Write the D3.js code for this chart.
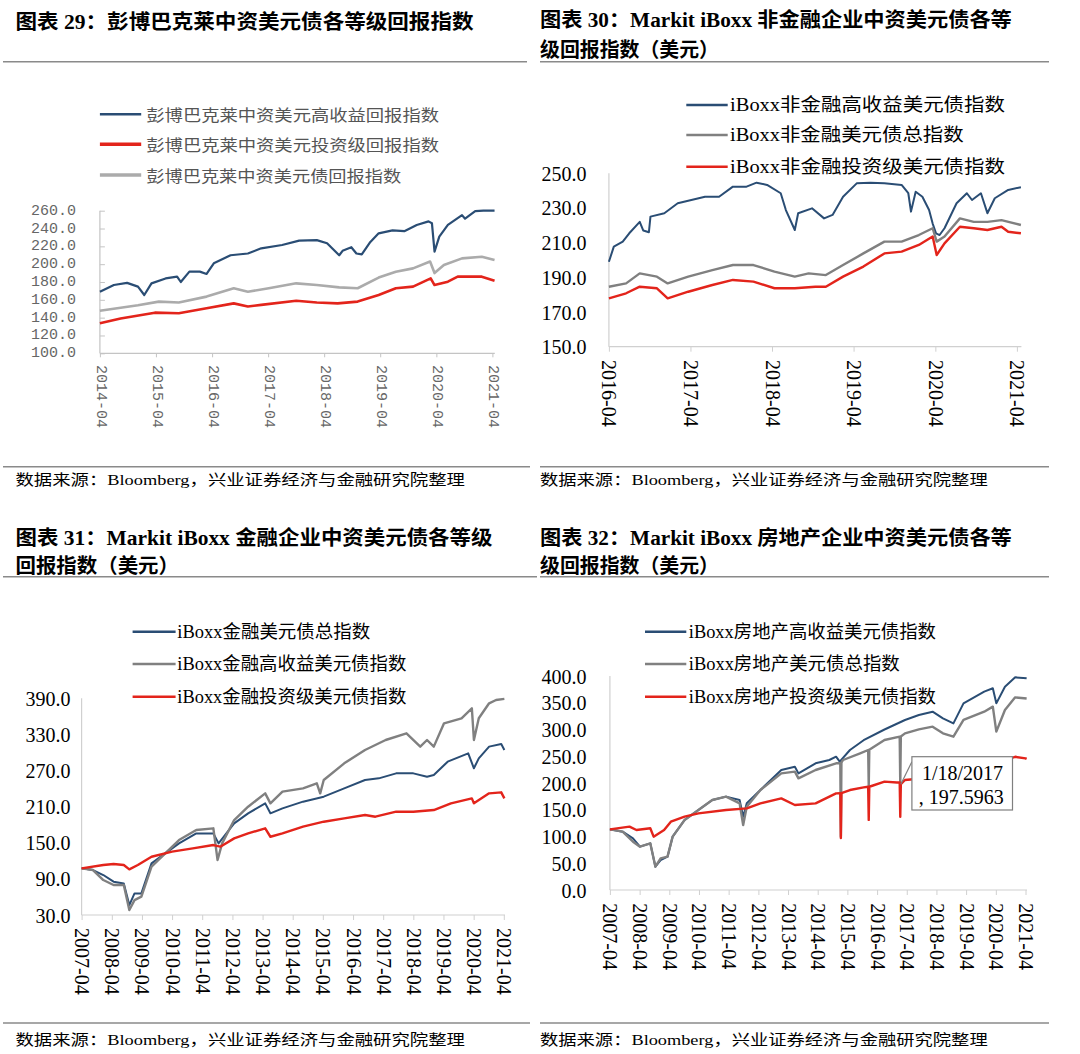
<!DOCTYPE html>
<html><head><meta charset="utf-8">
<script src="https://cdn.jsdelivr.net/npm/d3@7"></script>
<style>body{margin:0;background:#fff}</style>
</head><body>
<svg id="c" width="1080" height="1054"></svg>
<script>
// ---------- Chart 29 ----------
const c29Title = "图表 29：彭博巴克莱中资美元债各等级回报指数";
const c29XTicks = ["2014-04","2015-04","2016-04","2017-04","2018-04","2019-04","2020-04","2021-04"];
const c29YTicks = [100,120,140,160,180,200,220,240,260];
const c29Names = ["彭博巴克莱中资美元高收益回报指数","彭博巴克莱中资美元投资级回报指数","彭博巴克莱中资美元债回报指数"];
const c29HY = [["2014-04-01",169],["2014-07-01",176.6],["2014-09-25",179],["2014-12-05",174.8],["2015-01-15",165.4],["2015-03-03",178.5],["2015-06-03",184],["2015-08-17",186],["2015-09-10",180],["2015-11-05",191.6],["2016-01-12",191.6],["2016-02-25",189],["2016-04-12",201],["2016-07-30",210],["2016-11-20",212],["2017-02-15",217.8],["2017-07-01",221.5],["2017-10-20",226.4],["2018-02-12",227],["2018-04-20",223.4],["2018-07-08",210],["2018-07-30",215],["2018-09-25",219],["2018-10-28",212],["2018-12-02",211],["2019-01-27",225],["2019-03-22",234.6],["2019-06-20",238],["2019-09-05",237],["2019-11-25",244],["2020-02-10",248],["2020-03-03",246],["2020-03-20",214],["2020-04-20",231],["2020-06-15",244],["2020-09-15",255],["2020-10-05",251],["2020-12-10",259.5],["2021-02-01",260],["2021-04-15",260]];
const c29IG = [["2014-04-01",133.6],["2014-08-14",139],["2015-03-25",145.6],["2015-08-28",145],["2016-02-25",150.5],["2016-08-20",156],["2016-11-20",152.6],["2017-02-15",154.3],["2017-10-01",159],["2018-02-12",157],["2018-06-28",156],["2018-11-05",158],["2019-03-22",165.4],["2019-07-12",172.9],["2019-11-01",174.8],["2020-02-24",184],["2020-03-20",176.6],["2020-06-15",180.4],["2020-08-18",186],["2021-01-22",186],["2021-04-15",181.5]];
const c29Total = [["2014-04-01",147.8],["2014-12-05",154],["2015-04-20",158],["2015-08-28",157],["2016-02-25",163.6],["2016-08-20",172.9],["2016-11-20",169],["2017-04-05",173],["2017-10-01",178.5],["2018-02-12",176.6],["2018-07-08",174],["2018-11-05",173],["2019-03-22",185],["2019-07-12",191.6],["2019-11-01",195.3],["2020-02-20",203],["2020-03-20",190],["2020-05-20",199],["2020-09-15",206.5],["2021-01-22",208.4],["2021-04-15",204.7]];

// ---------- Chart 30 ----------
const c30Title = ["图表 30：Markit iBoxx 非金融企业中资美元债各等","级回报指数（美元）"];
const c30XTicks = ["2016-04","2017-04","2018-04","2019-04","2020-04","2021-04"];
const c30YTicks = [150,170,190,210,230,250];
const c30Names = ["iBoxx非金融高收益美元债指数","iBoxx非金融美元债总指数","iBoxx非金融投资级美元债指数"];
const c30HY = [["2016-04-01",199],["2016-04-23",207.7],["2016-06-02",210.6],["2016-07-01",215.4],["2016-08-17",222],["2016-09-02",217],["2016-09-27",216],["2016-10-04",225],["2016-12-05",227],["2017-02-03",232.7],["2017-04-05",234.6],["2017-06-05",236.5],["2017-08-07",236.5],["2017-10-08",242.3],["2017-12-08",242.3],["2018-01-22",244.6],["2018-03-10",243.3],["2018-05-10",238.5],["2018-06-02",228.8],["2018-07-12",217.3],["2018-07-27",227],["2018-09-27",229.8],["2018-11-20",224],["2018-12-28",226],["2019-02-13",236.5],["2019-04-15",244.2],["2019-06-16",244.6],["2019-08-17",244.2],["2019-11-02",243.3],["2019-12-02",238.5],["2019-12-14",227.9],["2020-01-04",239.4],["2020-02-03",236.5],["2020-03-04",228.8],["2020-03-20",221],["2020-04-04",215.4],["2020-04-20",214.4],["2020-05-12",218.3],["2020-07-05",232.7],["2020-08-20",238.5],["2020-09-12",234.6],["2020-10-22",238.5],["2020-11-20",227],["2020-12-23",235.6],["2021-02-21",240.4],["2021-04-19",242]];
const c30Total = [["2016-04-01",184.6],["2016-06-17",186.5],["2016-08-17",192.3],["2016-11-02",190.4],["2016-12-20",186.5],["2017-03-22",190.4],["2017-07-08",194.2],["2017-10-08",197.1],["2018-01-08",197.1],["2018-04-12",193.3],["2018-07-12",190.4],["2018-09-12",192.3],["2018-11-28",191.3],["2019-02-13",197.1],["2019-05-15",203.8],["2019-08-17",210.6],["2019-11-02",210.6],["2020-01-18",214.4],["2020-03-20",218.3],["2020-04-07",210.6],["2020-05-12",213.5],["2020-07-20",224],["2020-09-20",222],["2020-11-20",222],["2021-01-22",223],["2021-04-19",220.2]];
const c30IG = [["2016-04-01",177.9],["2016-06-17",180.8],["2016-08-17",184.6],["2016-11-02",183.7],["2016-12-20",177.9],["2017-03-22",181.7],["2017-07-08",185.6],["2017-10-08",188.5],["2018-01-08",187.5],["2018-04-12",183.7],["2018-07-12",183.7],["2018-10-12",184.6],["2018-11-28",184.6],["2019-02-13",190.4],["2019-05-15",196.2],["2019-08-17",203.8],["2019-11-02",204.8],["2020-01-18",208.7],["2020-03-20",213.5],["2020-04-07",202.9],["2020-05-12",209.6],["2020-07-20",219.2],["2020-09-20",218.3],["2020-11-20",217.3],["2021-01-22",219.2],["2021-02-21",216.3],["2021-04-19",215.4]];

// ---------- Chart 31 ----------
const c31Title = ["图表 31：Markit iBoxx 金融企业中资美元债各等级","回报指数（美元）"];
const c31XTicks = ["2007-04","2008-04","2009-04","2010-04","2011-04","2012-04","2013-04","2014-04","2015-04","2016-04","2017-04","2018-04","2019-04","2020-04","2021-04"];
const c31YTicks = [30,90,150,210,270,330,390];
const c31Names = ["iBoxx金融美元债总指数","iBoxx金融高收益美元债指数","iBoxx金融投资级美元债指数"];
const c31Total = [["2007-04-01",107.5],["2007-08-17",104.7],["2007-12-20",96.4],["2008-04-22",85.3],["2008-08-24",82.5],["2008-10-30",46.5],["2009-01-01",65.9],["2009-03-25",65.9],["2009-07-26",115.8],["2010-01-08",132.4],["2010-06-24",149],["2011-01-19",165.6],["2011-08-14",165.6],["2011-10-16",149],["2012-04-22",182.2],["2012-10-08",198.9],["2013-05-03",215.5],["2013-07-05",198.9],["2013-11-28",207.2],["2014-08-04",218.3],["2015-04-12",226.6],["2015-12-16",240.4],["2016-08-24",254.3],["2017-02-07",257],["2017-09-05",265.3],["2018-04-01",265.3],["2018-09-14",259.8],["2018-12-05",262.6],["2019-05-22",284.7],["2020-01-26",298.6],["2020-04-04",273.7],["2020-06-02",290.3],["2020-10-05",309.7],["2021-03-01",314.1],["2021-04-08",304.1]];
const c31HY = [["2007-04-01",107.5],["2007-08-17",104.7],["2007-12-20",88.1],["2008-04-22",79.8],["2008-08-24",79.8],["2008-10-30",38.2],["2009-01-01",54.8],["2009-03-25",60.4],["2009-07-26",110.2],["2010-01-08",132.4],["2010-06-24",154.5],["2011-01-19",171.2],["2011-08-14",174],["2011-10-04",121.3],["2011-11-28",149],["2012-04-22",187.8],["2012-10-08",209.9],["2013-05-03",232.1],["2013-07-05",215.5],["2013-11-28",234.9],["2014-08-04",240.4],["2015-01-18",248.7],["2015-02-28",232.1],["2015-04-12",254.3],["2015-12-16",282],["2016-08-24",304.1],["2017-05-01",320.7],["2018-01-08",331.8],["2018-06-24",309.7],["2018-09-14",320.7],["2018-12-05",309.7],["2019-04-08",348.4],["2019-11-06",356.8],["2020-03-10",373.4],["2020-04-04",320.7],["2020-06-02",356.8],["2020-10-05",381.7],["2020-12-28",387.2],["2021-04-08",389]];
const c31IG = [["2007-04-01",107.5],["2007-12-20",113],["2008-04-22",114.7],["2008-08-24",113],["2008-10-30",105.8],["2009-02-10",113],["2009-07-26",126.8],["2010-04-01",135.2],["2010-12-08",140.7],["2011-08-14",146.2],["2011-11-06",143.5],["2012-04-22",157.3],["2012-10-08",165.6],["2013-05-03",174],["2013-07-05",160],["2013-11-28",165.6],["2014-08-04",176.7],["2015-04-12",185],["2015-12-16",190.6],["2016-08-24",196.1],["2016-12-28",193.3],["2017-09-05",201.6],["2018-04-01",201.6],["2018-12-05",204.4],["2019-07-01",215.5],["2020-03-10",223.8],["2020-04-04",215.5],["2020-10-05",232.1],["2021-03-01",233.8],["2021-04-08",223.8]];

// ---------- Chart 32 ----------
const c32Title = ["图表 32：Markit iBoxx 房地产企业中资美元债各等","级回报指数（美元）"];
const c32XTicks = c31XTicks;
const c32YTicks = [0,50,100,150,200,250,300,350,400];
const c32Names = ["iBoxx房地产高收益美元债指数","iBoxx房地产美元债总指数","iBoxx房地产投资级美元债指数"];
const c32HY = [["2007-04-01",113.4],["2007-09-05",109],["2008-01-10",96.6],["2008-04-05",81],["2008-08-10",87.2],["2008-10-12",43.6],["2008-12-15",56],["2009-03-10",62.3],["2009-05-12",99.7],["2009-10-06",130.8],["2010-03-25",149.5],["2010-09-12",168.2],["2011-02-28",174.5],["2011-08-14",168.2],["2011-09-27",137],["2011-11-10",162],["2012-04-26",186.9],["2013-01-08",224.3],["2013-06-24",230.5],["2013-08-07",218],["2014-03-06",236.8],["2014-08-22",243],["2014-11-13",249.2],["2014-12-28",240],["2015-05-03",261.7],["2015-10-18",280],["2016-07-01",300],["2017-03-10",317.8],["2017-08-28",327.1],["2018-02-13",333.3],["2018-06-20",320.9],["2018-10-27",311.5],["2019-02-28",348.9],["2019-11-10",370.7],["2020-02-24",377],["2020-04-07",348.9],["2020-07-22",380],["2020-11-25",397.5],["2021-04-15",395.6]];
const c32Total = [["2007-04-01",113.4],["2007-09-05",109],["2008-01-10",90.3],["2008-04-05",81],["2008-08-10",87.2],["2008-10-12",43.6],["2008-12-15",59.2],["2009-03-10",62.3],["2009-05-12",99.7],["2009-10-06",130.8],["2010-03-25",149.5],["2010-09-12",168.2],["2011-02-28",174.5],["2011-08-14",162],["2011-09-27",121.5],["2011-11-10",155.8],["2012-04-26",186.9],["2013-01-08",218],["2013-06-24",221.2],["2013-08-07",208.7],["2014-03-06",224.3],["2014-11-13",236.8],["2015-01-04",237],["2015-01-11",100],["2015-01-18",238],["2015-02-07",243],["2015-09-05",255.5],["2015-12-13",261.7],["2015-12-20",193],["2015-12-27",262],["2016-07-01",280.4],["2017-01-04",286.6],["2017-01-11",196],["2017-01-18",287],["2017-03-10",292.8],["2017-08-28",300.3],["2018-02-13",305.3],["2018-06-20",292.8],["2018-10-27",286.6],["2019-02-28",317.8],["2019-11-10",333.3],["2020-02-24",342.7],["2020-04-07",296],["2020-07-22",336.4],["2020-11-25",360.1],["2021-04-15",358]];
const c32IG = [["2007-04-01",113.4],["2007-11-28",118.4],["2008-02-22",112.1],["2008-08-10",115.3],["2008-09-20",99.7],["2009-01-27",112.1],["2009-04-20",127.7],["2009-10-06",137.1],["2010-03-25",143.3],["2011-02-28",149.5],["2011-11-10",152.6],["2012-04-26",162],["2013-01-08",171.3],["2013-06-24",158.9],["2014-03-06",162],["2014-11-13",180.7],["2015-01-04",181],["2015-01-11",97],["2015-01-18",181],["2015-05-03",186.9],["2015-10-18",191.9],["2015-12-13",193],["2015-12-20",131],["2015-12-27",193],["2016-07-01",202.5],["2016-12-01",201],["2017-01-04",201],["2017-01-11",137],["2017-01-18",197.5963],["2017-03-10",205.6],["2017-08-28",208],["2018-06-20",212],["2019-02-28",218],["2019-11-10",232],["2020-02-24",238],["2020-04-07",225],["2020-07-22",240],["2020-10-15",247],["2020-11-25",249],["2021-04-01",246],["2021-04-15",245]];
const c32Callout = ["2017-01-18", 197.5963];

const sourceText = "数据来源：Bloomberg，兴业证券经济与金融研究院整理";

// ---------- drawing ----------
const svg = d3.select("#c");
svg.append("rect").attr("width",1080).attr("height",1054).attr("fill","#fff");
const parse = d3.timeParse("%Y-%m-%d");
const SERIF = "'Liberation Serif','Noto Sans CJK SC',serif";
const MONO = "'Liberation Mono','Noto Sans CJK SC',monospace";
const CJK = "'Noto Sans CJK SC',sans-serif";
const BLUE = "#2a4d74", RED = "#e3241b";

function text(x, y, s, opt) {
  const t = svg.append("text").attr("x", x).attr("y", y).text(s)
    .attr("dominant-baseline","central")
    .attr("font-family", opt.font || SERIF)
    .attr("font-size", opt.size || 16)
    .attr("fill", opt.fill || "#000");
  if (opt.bold) t.attr("font-weight","bold");
  if (opt.len) t.attr("textLength", opt.len).attr("lengthAdjust","spacingAndGlyphs");
  return t;
}
function rule(x1, x2, y) {
  svg.append("line").attr("x1",x1).attr("x2",x2).attr("y1",y).attr("y2",y)
    .attr("stroke","#8a8a8a").attr("stroke-width",1.6);
}

function drawChart(o) {
  const g = svg.append("g");
  const x = d3.scaleTime()
    .domain([parse(o.xTicks[0]+"-01"), parse(o.xTicks[o.xTicks.length-1]+"-01")])
    .range([o.ax, o.ax2]);
  const y = d3.scaleLinear().domain([o.yTicks[0], o.yTicks[o.yTicks.length-1]]).range([o.yb, o.yt]);

  // axis lines
  g.append("line").attr("x1",o.ax).attr("x2",o.ax).attr("y1",o.yb).attr("y2",o.yt)
    .attr("stroke",o.axisColor).attr("stroke-width",1.2);
  g.append("line").attr("x1",o.ax).attr("x2",o.xEnd).attr("y1",o.yb).attr("y2",o.yb)
    .attr("stroke",o.axisColor).attr("stroke-width",1.2);

  // y axis
  const ya = g.append("g").attr("transform",`translate(${o.ax},0)`)
    .call(d3.axisLeft(y).tickValues(o.yTicks).tickFormat(d3.format(".1f")).tickSize(o.yTick));
  ya.select(".domain").remove();
  ya.selectAll(".tick line").attr("stroke",o.axisColor);
  ya.selectAll("text").attr("x", o.yLabelRight - o.ax).attr("dy",null)
    .attr("dominant-baseline","central").attr("text-anchor","end")
    .attr("font-family",o.tickFont).attr("font-size",o.tickSize).attr("fill",o.tickFill);

  // x axis
  const xa = g.append("g").attr("transform",`translate(0,${o.yb})`)
    .call(d3.axisBottom(x).tickValues(o.xTicks.map(s=>parse(s+"-01")))
      .tickFormat(d3.timeFormat("%Y-%m")).tickSize(o.xTick));
  xa.select(".domain").remove();
  xa.selectAll(".tick line").attr("stroke",o.axisColor);
  xa.selectAll("text").attr("x",0).attr("y",0).attr("dy",null)
    .attr("transform",`translate(0,${o.xLabelTop - o.yb}) rotate(90)`)
    .attr("text-anchor","start").attr("dominant-baseline","central")
    .attr("font-family",o.tickFont).attr("font-size",o.tickSize).attr("fill",o.tickFill);

  // lines
  const line = d3.line().x(d=>x(parse(d[0]))).y(d=>y(d[1]));
  o.series.forEach(s => {
    g.append("path").datum(s.data).attr("d",line).attr("fill","none")
      .attr("stroke",s.color).attr("stroke-width",s.width || 2)
      .attr("stroke-linejoin","round");
  });

  // legend
  o.legend.forEach((l,i) => {
    g.append("line").attr("x1",o.lx1).attr("x2",o.lx2).attr("y1",o.ly[i]).attr("y2",o.ly[i])
      .attr("stroke",l.color).attr("stroke-width",l.width || 2.5);
    text(o.ltx, o.ly[i], l.name, {font:o.legendFont, size:o.legendSize, fill:o.legendFill, len:l.len});
  });
  return {x, y};
}

// Chart 29
text(15.5, 21.7, c29Title, {size:20, bold:true, len:458});
rule(3, 527, 61.7);
drawChart({
  ax:99.9, ax2:492.4, xEnd:494.8, yb:353.3, yt:210.7,
  xTicks:c29XTicks, yTicks:c29YTicks, axisColor:"#c4c4c4",
  yTick:-5, xTick:4, yLabelRight:76, xLabelTop:365,
  tickFont:MONO, tickSize:15, tickFill:"#666",
  series:[{data:c29HY,color:BLUE,width:2.2},{data:c29Total,color:"#ababab",width:2.6},{data:c29IG,color:RED,width:2.6}],
  lx1:99.9, lx2:141.2, ltx:146.3, ly:[114.3,144.3,175],
  legendFont:CJK, legendSize:16, legendFill:"#555",
  legend:[{name:c29Names[0],color:BLUE,len:292.7},{name:c29Names[1],color:RED,len:292.7,width:3.5},{name:c29Names[2],color:"#ababab",len:254.9,width:3.5}]
});
rule(3, 530, 466.7);
text(15.5, 480, sourceText, {size:15, len:449.4});

// Chart 30
text(540, 20, c30Title[0], {size:20, bold:true, len:471.8});
text(540, 50, c30Title[1], {size:20, bold:true, len:179});
rule(540, 1049, 61.7);
drawChart({
  ax:608.9, ax2:1016.9, xEnd:1021.4, yb:346.7, yt:173.3,
  xTicks:c30XTicks, yTicks:c30YTicks, axisColor:"#d0d0d0",
  yTick:0, xTick:5, yLabelRight:586.5, xLabelTop:360,
  tickFont:SERIF, tickSize:20, tickFill:"#000",
  series:[{data:c30HY,color:BLUE,width:2},{data:c30Total,color:"#808080",width:2.4},{data:c30IG,color:RED,width:2.4}],
  lx1:686.3, lx2:727.7, ltx:730.1, ly:[105,135,166.7],
  legendFont:SERIF, legendSize:18, legendFill:"#000",
  legend:[{name:c30Names[0],color:BLUE,len:274.8},{name:c30Names[1],color:"#808080",len:233.5},{name:c30Names[2],color:RED,len:274.8}]
});
rule(540, 1049, 466.7);
text(540, 480, sourceText, {size:15, len:447.7});

// Chart 31
text(15.5, 538, c31Title[0], {size:20, bold:true, len:476.9});
text(15.5, 566, c31Title[1], {size:20, bold:true, len:163.5});
rule(3, 537, 576.7);
drawChart({
  ax:81.6, ax2:503.8, xEnd:505, yb:915, yt:698.3,
  xTicks:c31XTicks, yTicks:c31YTicks, axisColor:"#d0d0d0",
  yTick:0, xTick:5, yLabelRight:70.6, xLabelTop:928,
  tickFont:SERIF, tickSize:20, tickFill:"#000",
  series:[{data:c31Total,color:BLUE,width:2},{data:c31HY,color:"#808080",width:2.4},{data:c31IG,color:RED,width:2.4}],
  lx1:132.6, lx2:175.6, ltx:177.3, ly:[631.7,664,696.7],
  legendFont:SERIF, legendSize:18, legendFill:"#000",
  legend:[{name:c31Names[0],color:BLUE,len:192.9},{name:c31Names[1],color:"#808080",len:229},{name:c31Names[2],color:RED,len:229}]
});
rule(3, 530, 1023);
text(15.5, 1040, sourceText, {size:15, len:449.4});

// Chart 32
text(540, 538, c32Title[0], {size:20, bold:true, len:471.8});
text(540, 566, c32Title[1], {size:20, bold:true, len:179});
rule(540, 1049, 576.7);
const s32 = drawChart({
  ax:609.9, ax2:1025.5, xEnd:1027, yb:890, yt:676,
  xTicks:c32XTicks, yTicks:c32YTicks, axisColor:"#d0d0d0",
  yTick:0, xTick:5, yLabelRight:586.5, xLabelTop:903.3,
  tickFont:SERIF, tickSize:20, tickFill:"#000",
  series:[{data:c32HY,color:BLUE,width:2},{data:c32Total,color:"#808080",width:2.4},{data:c32IG,color:RED,width:2.4}],
  lx1:645, lx2:686.3, ltx:688.8, ly:[631.7,664,696.7],
  legendFont:SERIF, legendSize:18, legendFill:"#000",
  legend:[{name:c32Names[0],color:BLUE,len:247.2},{name:c32Names[1],color:"#808080",len:211},{name:c32Names[2],color:RED,len:247.2}]
});
// callout
const px = s32.x(parse(c32Callout[0])), py = s32.y(c32Callout[1]);
svg.append("line").attr("x1",px).attr("y1",py).attr("x2",911.9).attr("y2",761.7)
  .attr("stroke","#7f7f7f").attr("stroke-width",1.2);
svg.append("rect").attr("x",911.9).attr("y",756.7).attr("width",100.6).attr("height",53.3)
  .attr("fill","#fff").attr("stroke","#7f7f7f").attr("stroke-width",1.2);
text(922, 773, d3.timeFormat("%-m/%-d/%Y")(parse(c32Callout[0])), {size:20});
text(918.8, 796.7, ", " + c32Callout[1], {size:20});
rule(540, 1049, 1023);
text(540, 1040, sourceText, {size:15, len:447.7});
</script>
</body></html>
